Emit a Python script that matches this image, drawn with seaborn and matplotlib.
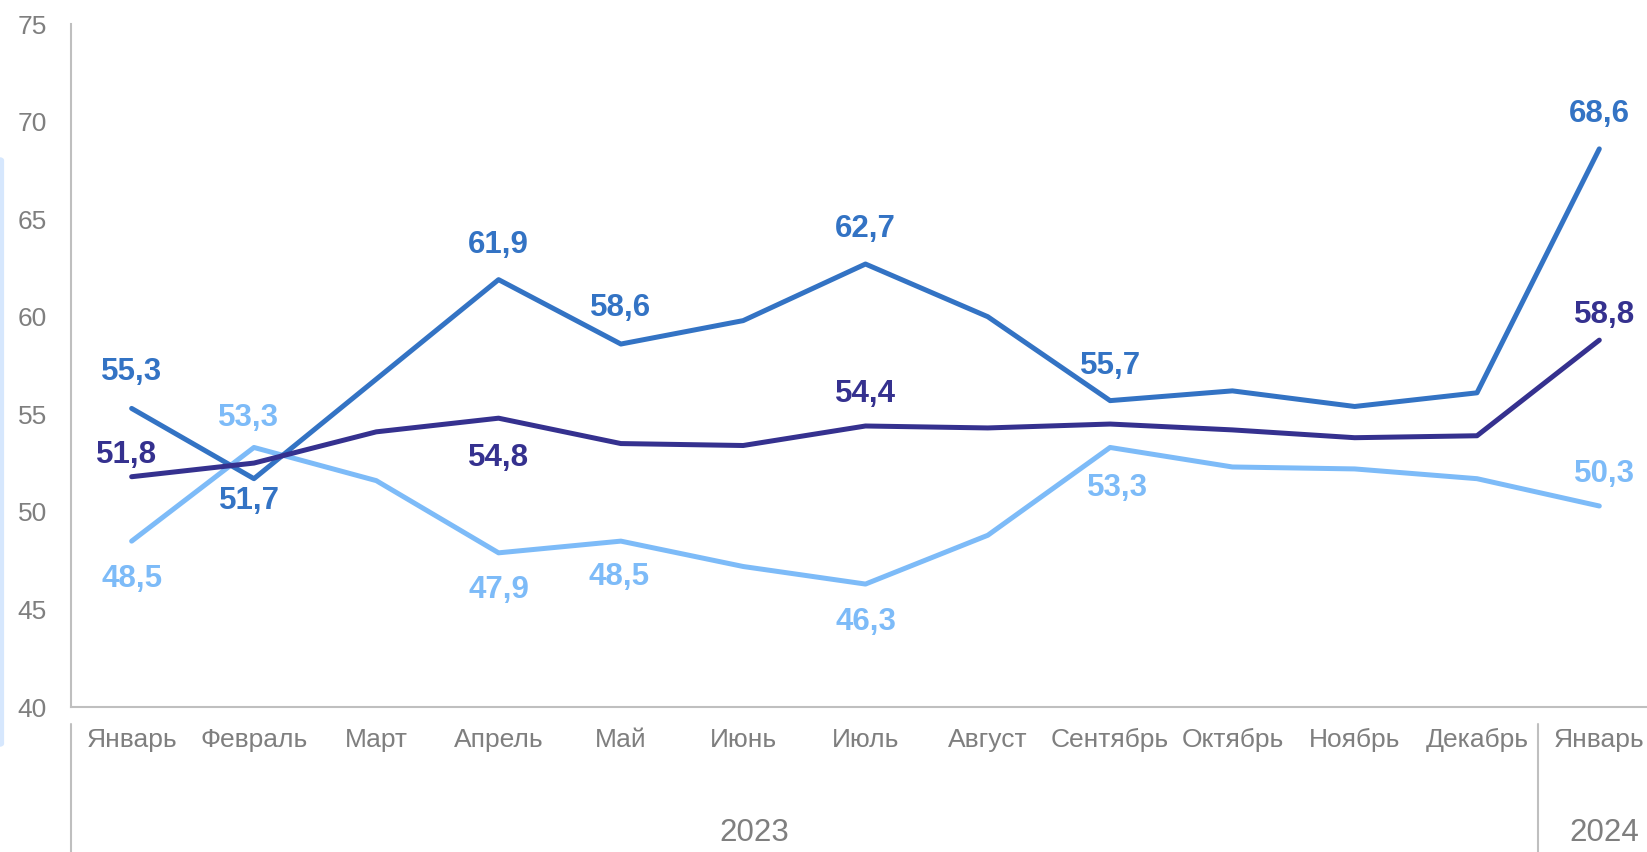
import pandas as pd
import matplotlib
matplotlib.use("Agg")
import matplotlib.pyplot as plt
import matplotlib.transforms as mtransforms
from matplotlib.patches import FancyBboxPatch
import seaborn as sns

# --- data ---
months = ["Январь", "Февраль", "Март", "Апрель", "Май", "Июнь", "Июль",
          "Август", "Сентябрь", "Октябрь", "Ноябрь", "Декабрь", "Январь"]
years = ["2023", "2024"]
series_mid = [55.3, 51.7, 56.8, 61.9, 58.6, 59.8, 62.7, 60.0, 55.7, 56.2, 55.4, 56.1, 68.6]
series_dark = [51.8, 52.5, 54.1, 54.8, 53.5, 53.4, 54.4, 54.3, 54.5, 54.2, 53.8, 53.9, 58.8]
series_light = [48.5, 53.3, 51.6, 47.9, 48.5, 47.2, 46.3, 48.8, 53.3, 52.3, 52.2, 51.7, 50.3]

# which points get a value label
labeled_mid = [0, 1, 3, 4, 6, 8, 12]
labeled_dark = [0, 3, 6, 12]
labeled_light = [0, 1, 3, 4, 6, 8, 12]

# label offsets in points (style, not data)
off_mid = [(0, 26), (-3, -16), (0, 25), (0, 26), (0, 25), (0, 25), (0, 25)]
off_dark = [(-4, 16), (0, -29), (0, 23), (4, 18)]
off_light = [(0, -27), (-4, 21), (0, -27), (-1, -26), (0, -27), (5, -29), (4, 23)]

c_mid = "#3373C4"
c_dark = "#35318F"
c_light = "#7DBBF8"

df = pd.DataFrame({
    "x": list(range(len(months))) * 3,
    "value": series_mid + series_dark + series_light,
    "series": ["mid"] * len(months) + ["dark"] * len(months) + ["light"] * len(months),
})

sns.set_style("white")
plt.rcParams["font.family"] = ["Liberation Sans", "DejaVu Sans"]

fig = plt.figure(figsize=(16.47, 8.52), dpi=100)
ax = fig.add_axes([70.5 / 1647, 145 / 852, (1647 - 70.5) / 1647, 683 / 852])

sns.lineplot(data=df, x="x", y="value", hue="series",
             palette={"mid": c_mid, "dark": c_dark, "light": c_light},
             hue_order=["light", "mid", "dark"],
             linewidth=3.6, legend=False, ax=ax)

ax.set_xlim(-0.5, 12.39)
ax.set_ylim(40, 75)
ax.set_yticks(range(40, 80, 5))
ax.set_xticks(range(len(months)))
ax.set_xticklabels(months)
ax.set_xlabel("")
ax.set_ylabel("")
ax.tick_params(axis="y", length=0, pad=17, labelsize=19, labelcolor="#7F7F7F")
ax.tick_params(axis="x", length=0, pad=15, labelsize=19, labelcolor="#7F7F7F")

for s in ["top", "right"]:
    ax.spines[s].set_visible(False)
for s in ["left", "bottom"]:
    ax.spines[s].set_color("#BFBFBF")
    ax.spines[s].set_linewidth(1.5)


def add_labels(values, idx, offs, color):
    for i, (dx, dy) in zip(idx, offs):
        ax.annotate(f"{values[i]:.1f}".replace(".", ","), (i, values[i]),
                    xytext=(dx, dy), textcoords="offset points",
                    ha="center", va="center", fontsize=22.5, fontweight="bold",
                    color=color)


add_labels(series_mid, labeled_mid, off_mid, c_mid)
add_labels(series_dark, labeled_dark, off_dark, c_dark)
add_labels(series_light, labeled_light, off_light, c_light)

# year grouping below the axis
trans = mtransforms.blended_transform_factory(ax.transData, ax.transAxes)
for xs in [-0.5, 11.5]:
    ax.plot([xs, xs], [-0.025, -0.22], transform=trans, color="#BFBFBF",
            linewidth=1.5, clip_on=False)
ax.text(5.09, -0.1845, years[0], transform=trans, ha="center", va="center",
        fontsize=22.5, color="#7F7F7F")
ax.text(12.04, -0.1845, years[1], transform=trans, ha="center", va="center",
        fontsize=22.5, color="#7F7F7F")

# light side bar at the left edge
fig.patches.append(FancyBboxPatch((-0.01, 105 / 852), 0.0125, 590 / 852,
                                  boxstyle="round,pad=0,rounding_size=0.004",
                                  transform=fig.transFigure, facecolor="#D6E7FD",
                                  edgecolor="none", figure=fig))

fig.savefig("out.png", dpi=100)
